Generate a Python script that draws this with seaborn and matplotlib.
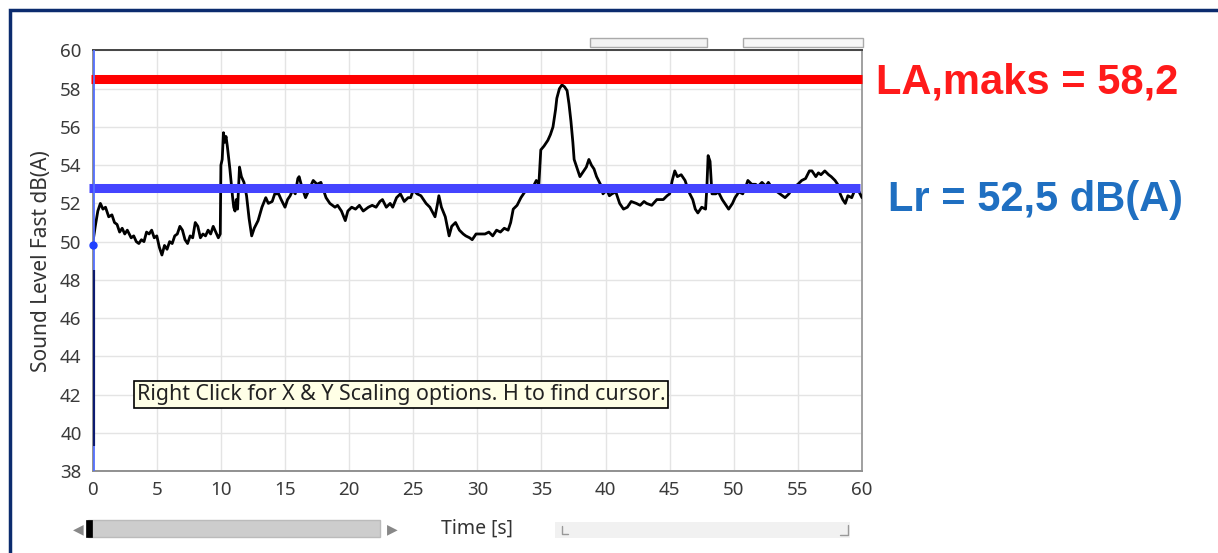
import matplotlib
matplotlib.use("Agg")
import matplotlib.pyplot as plt
from matplotlib.patches import Rectangle
import pandas as pd
import seaborn as sns

# sound level trace (time in s, level in dB(A))
time_s = [0.0, 0.2, 0.4, 0.6, 0.8, 1.0, 1.25, 1.5, 1.7, 1.9, 2.1, 2.3, 2.5, 2.7, 3.0, 3.2, 3.4, 3.6, 3.8, 4.0,
          4.2, 4.4, 4.6, 4.8, 5.0, 5.2, 5.4, 5.6, 5.8, 6.0, 6.2, 6.4, 6.6, 6.8, 7.0, 7.2, 7.4, 7.6, 7.8, 8.0,
          8.2, 8.4, 8.6, 8.8, 9.0, 9.2, 9.4, 9.6, 9.8, 9.95, 10.0, 10.1, 10.2, 10.3, 10.4, 10.5, 10.6, 10.7,
          10.8, 10.9, 11.0, 11.1, 11.2, 11.3, 11.45, 11.6, 11.8, 12.0, 12.2, 12.4, 12.6, 12.9, 13.2, 13.5,
          13.7, 14.0, 14.2, 14.5, 14.7, 15.0, 15.2, 15.4, 15.6, 15.8, 16.0, 16.1, 16.3, 16.6, 16.8, 17.0,
          17.2, 17.5, 17.8, 18.0, 18.2, 18.5, 18.9, 19.1, 19.4, 19.7, 19.9, 20.2, 20.5, 20.8, 21.1, 21.5,
          21.8, 22.1, 22.4, 22.6, 22.9, 23.2, 23.4, 23.7, 24.0, 24.3, 24.6, 24.8, 25.0, 25.3, 25.6, 26.0,
          26.3, 26.7, 26.9, 27.0, 27.2, 27.5, 27.8, 28.0, 28.3, 28.6, 28.9, 29.1, 29.4, 29.6, 29.9, 30.2,
          30.6, 30.9, 31.2, 31.5, 31.8, 32.1, 32.4, 32.6, 32.8, 33.1, 33.4, 33.7, 34.0, 34.3, 34.6, 34.8,
          34.95, 35.2, 35.5, 35.7, 35.9, 36.1, 36.2, 36.4, 36.6, 36.8, 37.0, 37.15, 37.3, 37.45, 37.55,
          37.8, 38.0, 38.2, 38.5, 38.7, 38.9, 39.1, 39.3, 39.6, 39.8, 40.1, 40.3, 40.5, 40.8, 41.1, 41.4,
          41.7, 42.0, 42.4, 42.7, 43.0, 43.2, 43.6, 44.0, 44.5, 44.8, 45.0, 45.2, 45.4, 45.6, 45.9, 46.2,
          46.5, 46.8, 47.0, 47.2, 47.5, 47.8, 47.9, 48.0, 48.15, 48.3, 48.6, 48.8, 49.1, 49.4, 49.6, 49.9,
          50.1, 50.4, 50.7, 51.0, 51.1, 51.4, 51.7, 51.9, 52.2, 52.5, 52.7, 53.0, 53.2, 53.6, 54.0, 54.3,
          54.6, 54.8, 55.0, 55.3, 55.6, 55.9, 56.1, 56.4, 56.6, 56.8, 57.1, 57.4, 57.6, 57.9, 58.1, 58.3,
          58.5, 58.7, 58.9, 59.2, 59.5, 59.7, 60.0]
level_db = [49.9, 50.8, 51.6, 52.0, 51.7, 51.8, 51.3, 51.4, 51.0, 50.9, 50.5, 50.7, 50.4, 50.6, 50.2, 50.3, 50.0, 49.9, 50.1, 50.0,
            50.5, 50.4, 50.6, 50.2, 50.3, 49.7, 49.3, 49.8, 49.6, 50.0, 49.9, 50.3, 50.4, 50.8, 50.6, 50.1, 49.9, 50.3, 50.2, 51.0,
            50.8, 50.2, 50.4, 50.3, 50.6, 50.4, 50.8, 50.5, 50.2, 50.4, 54.0, 54.3, 55.7, 55.2, 55.5, 55.0, 54.4, 53.8,
            53.1, 52.4, 51.8, 51.6, 52.2, 51.7, 53.9, 53.4, 53.1, 52.4, 51.2, 50.3, 50.7, 51.1, 51.8, 52.3,
            52.0, 52.1, 52.5, 52.5, 52.2, 51.8, 52.2, 52.4, 52.7, 52.5, 53.3, 53.4, 52.9, 52.3, 52.6, 52.9,
            53.2, 53.0, 53.1, 52.7, 52.3, 52.0, 51.8, 51.9, 51.6, 51.1, 51.6, 51.8, 51.7, 51.9, 51.6, 51.8,
            51.9, 51.8, 52.1, 52.2, 51.8, 52.0, 51.8, 52.3, 52.5, 52.1, 52.3, 52.3, 52.7, 52.5, 52.4, 52.0,
            51.8, 51.3, 52.0, 52.4, 51.8, 51.3, 50.3, 50.8, 51.0, 50.6, 50.4, 50.3, 50.2, 50.1, 50.4, 50.4,
            50.4, 50.5, 50.3, 50.6, 50.5, 50.7, 50.6, 51.0, 51.7, 51.9, 52.3, 52.6, 52.9, 52.8, 53.2, 53.0,
            54.8, 55.0, 55.3, 55.6, 56.0, 56.9, 57.5, 58.0, 58.2, 58.1, 57.9, 57.2, 56.3, 55.2, 54.3,
            53.8, 53.4, 53.6, 53.9, 54.3, 54.0, 53.8, 53.4, 53.0, 52.5, 52.7, 52.4, 52.5, 52.6, 52.0, 51.7,
            51.8, 52.1, 52.0, 51.9, 52.1, 52.0, 51.9, 52.2, 52.2, 52.4, 52.5, 53.2, 53.7, 53.4, 53.5, 53.2,
            52.6, 52.2, 51.7, 51.5, 51.8, 51.7, 52.8, 54.5, 54.2, 52.5, 52.5, 52.6, 52.2, 51.9, 51.7, 52.0,
            52.3, 52.6, 52.5, 53.0, 53.2, 53.0, 53.0, 52.9, 53.1, 52.9, 53.1, 52.8, 52.7, 52.5, 52.3, 52.5,
            52.8, 52.9, 53.0, 53.2, 53.3, 53.7, 53.7, 53.4, 53.6, 53.5, 53.7, 53.5, 53.4, 53.2, 53.0, 52.5,
            52.2, 52.0, 52.4, 52.3, 52.8, 52.7, 52.3]

la_max_line = 58.5   # red line
lr_line = 52.8       # blue line
cursor_level = 49.8
x_ticks = list(range(0, 61, 5))
y_ticks = list(range(38, 61, 2))
label_lamax = "LA,maks = 58,2"
label_lr = "Lr = 52,5 dB(A)"
tooltip = "Right Click for X & Y Scaling options. H to find cursor."

df = pd.DataFrame({"t": time_s, "L": level_db})

sns.set_theme(style="whitegrid")
plt.rcParams["font.family"] = ["Noto Sans", "DejaVu Sans"]

fig = plt.figure(figsize=(12.18, 5.53), dpi=100)
fig.patch.set_facecolor("white")
ax = fig.add_axes([0.0761, 0.1483, 0.6316, 0.7604])
ax.set_facecolor("white")

sns.lineplot(data=df, x="t", y="L", ax=ax, color="black", lw=2.0, zorder=3)

# reference lines
ax.hlines(la_max_line, -0.15, 60, colors="#ff0000", lw=6.5, zorder=4, clip_on=False)
ax.hlines(lr_line, -0.3, 59.85, colors="#4444ff", lw=6.5, zorder=4, clip_on=False)

# cursor at t=0
ax.axvline(0.12, color="#5570ff", lw=1.3, zorder=5)
ax.plot([0.05, 0.05], [39.3, 48.5], color="#0c1a70", lw=3, zorder=5, solid_capstyle="butt")
ax.plot([0.05], [cursor_level], marker="o", ms=5, color="#2040ff", zorder=6, clip_on=False)

ax.set_xlim(0, 60)
ax.set_ylim(38, 60)
ax.set_xticks(x_ticks)
ax.set_yticks(y_ticks)
ax.grid(True, color="#e4e4e4", lw=1)
ax.tick_params(axis="both", direction="out", length=6, width=1.2, color="#555555",
               labelsize=13.5, labelcolor="#3a3a3a", pad=2)
ax.tick_params(axis="x", pad=1)
for side, col in [("top", "#444444"), ("right", "#a0a0a0"), ("bottom", "#909090"), ("left", "#909090")]:
    ax.spines[side].set_visible(True)
    ax.spines[side].set_color(col)
    ax.spines[side].set_linewidth(1.4)

ax.set_xlabel("")
ax.set_ylabel("Sound Level Fast dB(A)", fontsize=15, color="#333333", labelpad=6)

ax.text(3.45, 42.0, tooltip, fontsize=15.4, color="#222222", ha="left", va="center", zorder=7,
        bbox=dict(boxstyle="square,pad=0.12", facecolor="#ffffe6", edgecolor="black", lw=1.2))

W, H = 1218, 553


def px_rect(x0, y0, x1, y1, **kw):
    fig.add_artist(Rectangle((x0 / W, 1 - y1 / H), (x1 - x0) / W, (y1 - y0) / H,
                             transform=fig.transFigure, **kw))


# scrollbar boxes above the plot
px_rect(590, 38, 707, 47, facecolor="#f2f2f2", edgecolor="#aaaaaa", lw=1)
px_rect(743, 38, 863, 47, facecolor="#f7f7f7", edgecolor="#aaaaaa", lw=1)

# bottom scrollbars
px_rect(88, 520, 380, 537, facecolor="#cdcdcd", edgecolor="#bbbbbb", lw=1)
px_rect(86, 520, 92, 537, facecolor="black", edgecolor="black", lw=0.5)
fig.text(78 / W, 1 - 529 / H, "\u25c0", fontsize=10, color="#888888", ha="center", va="center",
         family="DejaVu Sans")
fig.text(392 / W, 1 - 529 / H, "\u25b6", fontsize=10, color="#888888", ha="center", va="center",
         family="DejaVu Sans")
px_rect(555, 522, 850, 538, facecolor="#f1f1f1", edgecolor="none")
fig.add_artist(plt.Line2D([562 / W, 562 / W, 568 / W], [1 - 526 / H, 1 - 534 / H, 1 - 534 / H],
                          color="#999999", lw=1, transform=fig.transFigure))
fig.add_artist(plt.Line2D([840 / W, 848 / W, 848 / W], [1 - 535 / H, 1 - 535 / H, 1 - 525 / H],
                          color="#999999", lw=1, transform=fig.transFigure))

fig.text(477 / W, 1 - 529 / H, "Time [s]", fontsize=14, color="#333333", ha="center", va="center")

# annotations on the right
fig.text(876 / W, 1 - 82 / H, label_lamax, fontsize=30, fontweight="bold", color="#ff1a1a",
         family="Liberation Sans", ha="left", va="center")
fig.text(888 / W, 1 - 200 / H, label_lr, fontsize=30, fontweight="bold", color="#1f6fc1",
         family="Liberation Sans", ha="left", va="center")

# navy frame around the screenshot
fig.add_artist(Rectangle((9.5 / W, -0.05), 1.1, 1 - 9.5 / H + 0.05, transform=fig.transFigure,
                         facecolor="none", edgecolor="#0b2b6e", lw=2.5))

fig.savefig("out.png", dpi=100, facecolor="white")
